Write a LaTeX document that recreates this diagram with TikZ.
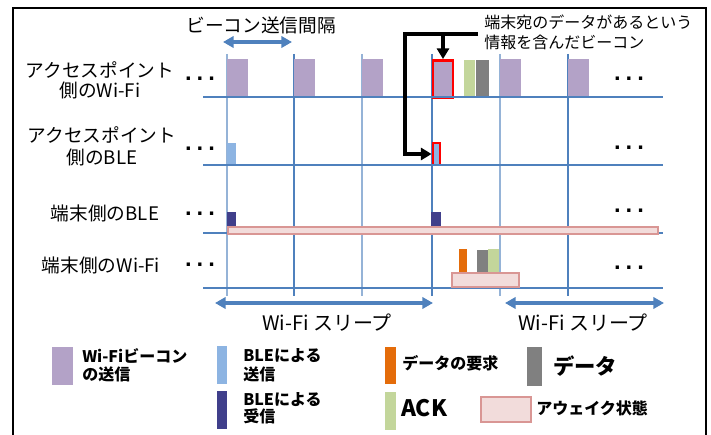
\documentclass[tikz,border=0pt]{standalone}
\usepackage{fontspec}
\setmainfont{Noto Sans CJK JP}
\newfontfamily\dotfont{DejaVu Sans}
\usetikzlibrary{arrows.meta,calc}
\definecolor{beaconc}{HTML}{B3A2C7}
\definecolor{blesend}{HTML}{8DB4E2}
\definecolor{blerecv}{HTML}{403F8B}
\definecolor{reqc}{HTML}{E46C0A}
\definecolor{datac}{HTML}{808080}
\definecolor{ackc}{HTML}{C3D69B}
\definecolor{awakefill}{HTML}{F2DCDB}
\definecolor{awakeedge}{HTML}{D99694}
\definecolor{lineblue}{HTML}{4F81BD}
\definecolor{vlightblue}{HTML}{95B3D7}
\newcommand{\tdots}{.\kern3.4pt.\kern3.4pt.}
\tikzset{
  hline/.style={draw=lineblue, line width=1.5pt},
  vlight/.style={draw=vlightblue, line width=1.1pt},
  vmed/.style={draw=lineblue, line width=0.8pt},
  awake/.style={fill=awakefill, draw=awakeedge, line width=1.6pt},
  redbox/.style={draw=red, line width=2.1pt, inner sep=0pt},
  callout/.style={draw=black, line width=2.5pt, -{Triangle[length=8pt,width=9pt]}},
  span/.style={draw=lineblue, line width=2.6pt, {Triangle[length=8pt,width=8.5pt]}-{Triangle[length=8pt,width=8.5pt]}},
  lbl/.style={inner sep=0pt, font=\fontsize{14}{15}\selectfont, align=center},
  dots/.style={inner sep=0pt, font=\dotfont\fontsize{14}{14}\selectfont\bfseries},
  leg/.style={inner sep=0pt, anchor=west, align=left, font=\fontsize{11.5}{13.5}\selectfont\bfseries},
}
\begin{document}
\begin{tikzpicture}[x=0.75pt,y=-0.75pt]
\useasboundingbox (0,0) rectangle (711,435);
% frame
\draw[line width=2.2pt] (13,437) -- (13,8) -- (706,8) -- (706,437);

% vertical grid lines
\foreach \x in {227,362,500} \draw[vlight] (\x,54) -- (\x,296);
\foreach \x in {294,432,568} \draw[vmed] (\x,54) -- (\x,296);

% row 1 beacons
\foreach \x in {227,294,362,500,568} \fill[beaconc] (\x,59) rectangle ++(21,38);
\fill[ackc] (464,60) rectangle (475,97);
\fill[datac] (476,60) rectangle (489,97);
\node[redbox, fill=beaconc, minimum width=20pt*0.75, minimum height=37pt*0.75] (bcn) at (443,79) {};

% row 2 BLE send
\fill[blesend] (227,143) rectangle (236,165);
\node[redbox, fill=blesend, minimum width=7pt*0.75, minimum height=22pt*0.75] (blebox) at (436.5,154) {};

% row 3 BLE receive
\fill[blerecv] (227,212) rectangle (236,233);
\fill[blerecv] (431,212) rectangle (441,233);

% row 4 data exchange
\fill[reqc] (459,249) rectangle (467,273);
\fill[datac] (477,250) rectangle (488,288);
\fill[ackc] (488,249) rectangle (499,275);

% horizontal time lines
\foreach \y in {97,165,233,288} \draw[hline] (203,\y) -- (663,\y);

% awake bars
\path[awake] (228,227) rectangle (658,234);
\path[awake] (452,273) rectangle (519,287);

% left labels
\node[lbl] (l1) at (100,80) {アクセスポイント\\側のWi-Fi};
\node[lbl, font=\fontsize{14}{16.5}\selectfont] (l2) at (102,146) {アクセスポイント\\側のBLE};
\node[lbl] (l3) at (105,213) {端末側のBLE};
\node[lbl] (l4) at (101,265) {端末側のWi-Fi};

% dots
\node[dots] (d1l) at (200,79) {\tdots};
\node[dots] (d1r) at (629,79) {\tdots};
\node[dots] (d2l) at (200,149) {\tdots};
\node[dots] (d2r) at (629,148) {\tdots};
\node[dots] (d3l) at (200,214) {\tdots};
\node[dots] (d3r) at (629,211) {\tdots};
\node[dots] (d4l) at (200,265) {\tdots};
\node[dots] (d4r) at (629,268) {\tdots};

% beacon interval
\node[lbl] (interval) at (261,25) {ビーコン送信間隔};
\coordinate (ia) at (223,42);
\coordinate (ib) at (292,42);
\draw[span] (ia) -- (ib);

% callout
\node[inner sep=0pt, anchor=west, align=left, font=\fontsize{12}{15}\selectfont] (callout) at (484,32) {端末宛のデータがあるという\\情報を含んだビーコン};
\coordinate (cstart) at (478,34);
\coordinate (corner) at (405,34);
\draw[callout] (cstart) -- (corner) |- (blebox.west);
\draw[callout] (bcn.north |- cstart) -- (bcn.north);

% sleep spans
\coordinate (s1a) at (215,303);
\coordinate (s1b) at (433,303);
\coordinate (s2a) at (505,303);
\coordinate (s2b) at (664,303);
\draw[span] (s1a) -- (s1b);
\draw[span] (s2a) -- (s2b);
\node[inner sep=0pt, font=\fontsize{15}{15}\selectfont] (sl1) at (327,323) {Wi-Fi スリープ};
\node[inner sep=0pt, font=\fontsize{15}{15}\selectfont] (sl2) at (583,323) {Wi-Fi スリープ};

% legend
\fill[beaconc] (52,347) rectangle (73,385);
\node[leg, font=\fontsize{12}{13.5}\selectfont\bfseries] (lg1) at (82,365) {Wi-Fiビーコン\\の送信};
\fill[blesend] (217,346) rectangle (227,384);
\node[leg, font=\fontsize{12}{14}\selectfont\bfseries] (lg2) at (243,365.5) {BLEによる\\送信};
\fill[blerecv] (217,391) rectangle (227,429);
\node[leg, font=\fontsize{12}{13}\selectfont\bfseries] (lg3) at (243,408.5) {BLEによる\\受信};
\fill[reqc] (385,347) rectangle (396,384);
\node[leg, font=\fontsize{12}{13}\selectfont\bfseries] (lg4) at (402,363) {データの要求};
\fill[datac] (527,347) rectangle (542,386);
\node[leg, font=\fontsize{16}{16}\selectfont\bfseries] (lg5) at (553,366) {データ};
\fill[ackc] (385,392) rectangle (396,430);
\node[leg, font=\fontsize{17}{17}\selectfont\bfseries] (lg6) at (401,408) {ACK};
\path[awake] (481,397) rectangle (531,422);
\node[leg, font=\fontsize{12}{12}\selectfont\bfseries] (lg7) at (536,408) {アウェイク状態};
\end{tikzpicture}
\end{document}
